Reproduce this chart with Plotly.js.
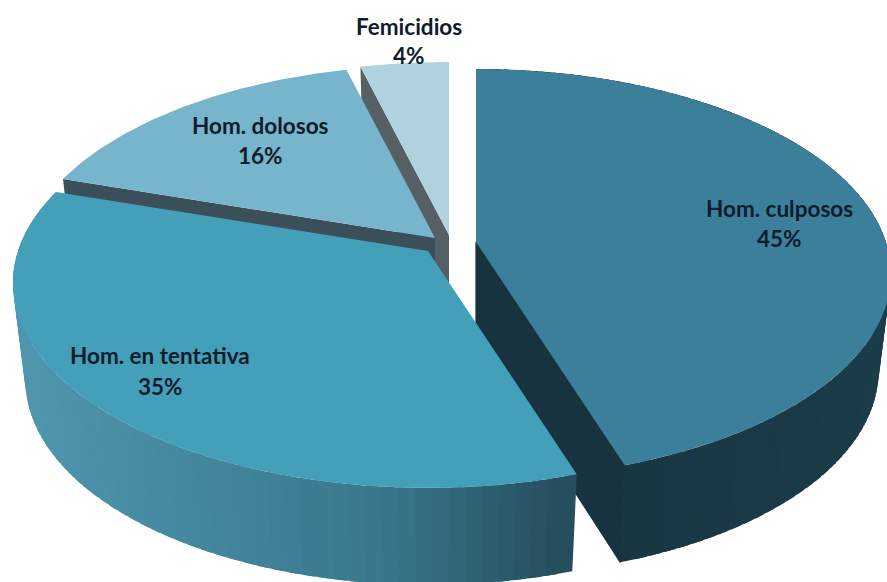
<!DOCTYPE html>
<html>
<head>
<meta charset="utf-8">
<script src="https://cdn.plot.ly/plotly-3.0.1.min.js"></script>
<style>html,body{margin:0;padding:0;background:#fff}#chart{width:887px;height:582px}</style>
</head>
<body>
<div id="chart"></div>
<script>
// Data
const categories = ["Hom. culposos", "Hom. en tentativa", "Hom. dolosos", "Femicidios"];
const shares = [45, 35, 16, 4];

// Styles
const topColors = ["#3c7f9b", "#44a0b9", "#77b5cc", "#b0d1de"];
const cutColors = ["#17333f", null, "#3b4f5a", "#555f66"];
const wallStops = [
  [ [476, "#17333f"], [887, "#1b3c49"] ],
  [ [10, "#4f97af"], [200, "#44889f"], [400, "#39768b"], [578, "#244d5c"] ]
];
// Pie geometry in the picture's own frame
const apexX = [476, 428, 435, 449];
const apexY = [242, 251, 238, 235];
const Rx = 410, Ry = 200, persp = 0.156, depth = 97, lowScale = 0.97;
const labelX = [779, 160, 260, 409];
const labelY = [208, 355, 125, 26];
const pctY   = [238, 386, 155, 55];

const hex = c => [1, 3, 5].map(i => parseInt(c.substr(i, 2), 16));
function mix(stops, x) {
  if (x <= stops[0][0]) return stops[0][1];
  for (let i = 1; i < stops.length; i++) {
    if (x <= stops[i][0]) {
      const t = (x - stops[i-1][0]) / (stops[i][0] - stops[i-1][0]);
      const a = hex(stops[i-1][1]), b = hex(stops[i][1]);
      return "rgb(" + a.map((v, k) => Math.round(v + (b[k] - v) * t)).join(",") + ")";
    }
  }
  return stops[stops.length-1][1];
}
function project(i, deg) {
  const a = deg * Math.PI / 180, u = Math.sin(a), v = Math.cos(a), w = 1 + persp * v;
  return [apexX[i] + Rx * u / w, apexY[i] - Ry * v / w];
}
function arc(i, a0, a1) {
  const n = Math.max(2, Math.ceil(Math.abs(a1 - a0))), pts = [];
  for (let k = 0; k <= n; k++) pts.push(project(i, a0 + (a1 - a0) * k / n));
  return pts;
}
function poly(pts, color, name, lineW) {
  return {
    type: "scatter", mode: "lines", fill: "toself", fillcolor: color,
    x: pts.map(p => p[0]).concat([pts[0][0]]),
    y: pts.map(p => p[1]).concat([pts[0][1]]),
    line: {color: color, width: lineW || 0},
    hoverinfo: "text", text: name, showlegend: false
  };
}
const total = shares.reduce((a, b) => a + b, 0);
const start = [], end = [];
let acc = 0;
shares.forEach((s, i) => { start[i] = acc / total * 360; acc += s; end[i] = acc / total * 360; });
const hoverText = categories.map((c, i) => c + ": " + shares[i] + "%");
const low = (i, p) => [apexX[i] + (p[0] - apexX[i]) * lowScale, p[1] + depth];

function topFace(i) {
  return poly([[apexX[i], apexY[i]]].concat(arc(i, start[i], end[i])), topColors[i], hoverText[i]);
}
function cutFace(i, deg, lineW) {
  const apex = [apexX[i], apexY[i]], rim = project(i, deg);
  return poly([apex, rim, low(i, rim), low(i, apex)], cutColors[i], hoverText[i], lineW);
}
// Side wall as a run of overlapping strips, drawn from the far end to the near end
function walls(i) {
  const out = [], step = 2, overlap = 1.5;
  const leftward = i === 1;
  const edges = [];
  for (let a = start[i]; a < end[i]; a += step) edges.push([a, Math.min(a + step, end[i])]);
  if (leftward) edges.reverse();
  edges.forEach(e => {
    const a = leftward ? e[0] : Math.max(start[i], e[0] - overlap);
    const b = leftward ? Math.min(end[i], e[1] + overlap) : e[1];
    const seg = arc(i, a, b);
    const midX = project(i, (e[0] + e[1]) / 2)[0];
    out.push(poly(seg.concat(seg.slice().reverse().map(p => low(i, p))), mix(wallStops[i], midX), hoverText[i]));
  });
  return out;
}

const traces = [
  cutFace(3, start[3]), topFace(3),
  cutFace(2, start[2]), topFace(2),
  ...walls(0), cutFace(0, end[0], 1.2), topFace(0),
  ...walls(1), topFace(1)
];

const font = {family: "Lato, 'Open Sans', sans-serif", size: 22.5, color: "#0e1c2b"};
const annotations = [];
categories.forEach((c, i) => {
  annotations.push({x: labelX[i], y: labelY[i], xref: "x", yref: "y", text: "<b>" + c + "</b>", showarrow: false, font: font});
  annotations.push({x: labelX[i], y: pctY[i], xref: "x", yref: "y", text: "<b>" + shares[i] + "%</b>", showarrow: false, font: font});
});

const hidden = {visible: false, fixedrange: true};
Plotly.newPlot("chart", traces, {
  width: 887, height: 582,
  margin: {l: 0, r: 0, t: 0, b: 0},
  paper_bgcolor: "#fff", plot_bgcolor: "#fff",
  showlegend: false,
  xaxis: Object.assign({range: [0, 887]}, hidden),
  yaxis: Object.assign({range: [582, 0]}, hidden),
  annotations: annotations
}, {displayModeBar: false});
</script>
</body>
</html>
